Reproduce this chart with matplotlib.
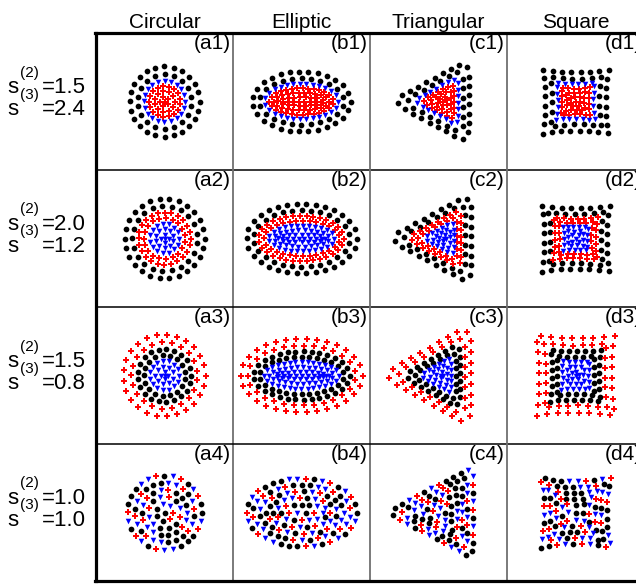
import numpy as np
import matplotlib
matplotlib.use('Agg')
import matplotlib.pyplot as plt
from matplotlib.lines import Line2D

plt.rcParams['font.family'] = ['Liberation Sans', 'DejaVu Sans']

columns = ['Circular', 'Elliptic', 'Triangular', 'Square']
col_keys = ['a', 'b', 'c', 'd']
s2_values = ['1.5', '2.0', '1.5', '1.0']
s3_values = ['2.4', '1.2', '0.8', '1.0']

# outer size of each cluster in px, one entry per row
circle_radius = [35, 40, 41, 37]
ellipse_axes = [(49, 30), (55, 35), (61, 37), (55, 34)]
triangle_size = [(78, 84), (84, 90), (90, 102), (86, 92)]   # tip-to-side width, side height
triangle_shift = [-9, -10, -13, -9]
triangle_round = [7, 7, 8, 5]
square_half = [(33, 32), (34, 33), (39, 40), (35, 35)]
square_bow = [3, 3, 3, 4]

# shells from outside in: (fraction of the way to the centre, species, spacing along shell px)
shells_row1 = [(0.00, 'k', 9.2), (0.22, 'k', 9.5), (0.41, 'b', 6.6), (0.56, 'r', 5.6),
               (0.71, 'r', 5.6), (0.86, 'r', 5.6), (1.00, 'r', 5.6)]
shells_row2 = [(0.00, 'k', 9.5), (0.19, 'k', 9.5), (0.35, 'r', 6.8), (0.49, 'r', 6.6),
               (0.63, 'b', 6.0), (0.77, 'b', 6.0), (0.90, 'b', 6.0), (1.00, 'b', 6.0)]
shells_row3 = [(0.00, 'r', 10.5), (0.19, 'r', 10.0), (0.35, 'k', 8.0), (0.50, 'k', 7.8),
               (0.64, 'b', 6.0), (0.78, 'b', 6.0), (0.91, 'b', 6.0), (1.00, 'b', 6.0)]
shells_row4 = [(0.00, 'm', 8.3), (0.19, 'm', 8.0), (0.38, 'm', 8.0), (0.57, 'm', 8.0),
               (0.77, 'm', 8.0), (1.00, 'm', 8.0)]
shells = [shells_row1, shells_row2, shells_row3, shells_row4]
mix_pattern = 'kkrbkrbkrbbk'

styles = {'k': dict(marker='o', color='black', s=17),
          'r': dict(marker='P', color='red', s=13),
          'b': dict(marker='v', color='blue', s=16)}

W, H = 636, 585
cell = 137
x0, y0 = 96, 33


def rounded_polygon(verts, rc, m=30):
    # counter-clockwise vertices, outline pushed out by rc with round corners
    verts = [np.asarray(v, float) for v in verts]
    nv = len(verts)
    normals = []
    for k in range(nv):
        d = verts[(k + 1) % nv] - verts[k]
        normals.append(np.array([d[1], -d[0]]) / np.hypot(*d))
    out = []
    for k in range(nv):
        n0, n1 = normals[k - 1], normals[k]
        a0 = np.arctan2(n0[1], n0[0])
        a1 = np.arctan2(n1[1], n1[0])
        a1 = a0 + (a1 - a0) % (2 * np.pi)
        th = np.linspace(a0, a1, m)
        out.append(verts[k] + rc * np.column_stack([np.cos(th), np.sin(th)]))
    return np.vstack(out)


def outline(kind, row, f):
    t = np.linspace(0, 2 * np.pi, 480, endpoint=False)
    if kind == 'a':
        r = circle_radius[row] * (1 - f)
        return np.column_stack([r * np.cos(t), r * np.sin(t)]), True
    if kind == 'b':
        a, b = ellipse_axes[row]
        d = b * f
        if b - d < 1:
            return np.array([[-(a - d), 0], [a - d, 0]]), False
        return np.column_stack([(a - d) * np.cos(t), (b - d) * np.sin(t)]), True
    if kind == 'c':
        w, h = triangle_size[row]
        xc = triangle_shift[row]
        A = np.array([xc - w / 2, 0.0])
        B = np.array([xc + w / 2, h / 2])
        C = np.array([xc + w / 2, -h / 2])
        la, lb, lc = np.linalg.norm(B - C), np.linalg.norm(A - C), np.linalg.norm(A - B)
        inc = (la * A + lb * B + lc * C) / (la + lb + lc)
        e1, e2 = B - A, C - A
        rin = abs(e1[0] * e2[1] - e1[1] * e2[0]) / (la + lb + lc)
        rc = triangle_round[row]
        k = (rin - rc) / rin
        inner = [inc + (V - inc) * k for V in (A, C, B)]
        pts = rounded_polygon(inner, rc)
        return inc + (pts - inc) * (1 - f), True
    hx, hy = square_half[row]
    c = square_bow[row]
    u = np.linspace(-1, 1, 120, endpoint=False)
    bow = c * (1 - u ** 2)
    sides = [np.column_stack([u * hx, -hy + bow]),
             np.column_stack([hx - bow, u * hy]),
             np.column_stack([-u * hx, hy - bow]),
             np.column_stack([-hx + bow, -u * hy])]
    return np.vstack(sides) * (1 - f), True


def place(pts, closed, spacing, phase):
    if closed:
        pts = np.vstack([pts, pts[:1]])
    seg = np.hypot(*np.diff(pts, axis=0).T)
    L = seg.sum()
    if L < 1.0:
        return pts[:1]
    cum = np.concatenate([[0], np.cumsum(seg)])
    if closed:
        n = max(1, int(round(L / spacing)))
        s = (np.arange(n) + phase) / n * L
    else:
        n = max(1, int(round(L / spacing)) + 1)
        s = np.linspace(0, L, n)
    return np.column_stack([np.interp(s, cum, pts[:, 0]), np.interp(s, cum, pts[:, 1])])


fig = plt.figure(figsize=(W / 100, H / 100), dpi=100)

for i in range(4):
    for j, key in enumerate(col_keys):
        left = (x0 + cell * j) / W
        bottom = 1 - (y0 + cell * (i + 1)) / H
        ax = fig.add_axes([left, bottom, cell / W, cell / H])
        ax.set_xlim(-cell / 2, cell / 2)
        ax.set_ylim(-cell / 2, cell / 2)
        ax.axis('off')
        groups = {'k': [], 'r': [], 'b': []}
        for k, (f, sp, spacing) in enumerate(shells[i]):
            pts, closed = outline(key, i, f)
            p = place(pts, closed, spacing, 0.5 * (k % 2))
            if sp == 'm':
                for n, q in enumerate(p):
                    groups[mix_pattern[(n + 5 * k) % len(mix_pattern)]].append(q)
            else:
                groups[sp].extend(p)
        for sp in ['k', 'r', 'b']:
            if groups[sp]:
                g = np.array(groups[sp])
                ax.scatter(g[:, 0], g[:, 1], linewidths=0, clip_on=False, **styles[sp])
        ax.text(1 - 2 / cell, 1 - 1 / cell, f'({key}{i + 1})', transform=ax.transAxes,
                ha='right', va='top', fontsize=15)

# column titles
for j, name in enumerate(columns):
    fig.text((x0 + cell * (j + 0.5)) / W, 1 - 28 / H, name, ha='center', va='baseline', fontsize=15)


def row_label(yb, order, value):
    fy = lambda y: 1 - y / H
    fig.text(7 / W, fy(yb), 's', ha='left', va='baseline', fontsize=16)
    fig.text(20 / W, fy(yb - 16.5), f'({order})', ha='left', va='baseline', fontsize=11)
    fig.text(42 / W, fy(yb), '=' + value, ha='left', va='baseline', fontsize=16)


for i in range(4):
    yc = y0 + cell * (i + 0.5)
    row_label(yc - 8.5, 2, s2_values[i])
    row_label(yc + 13.5, 3, s3_values[i])


def hline(y, xa, xb, **kw):
    fig.add_artist(Line2D([xa / W, xb / W], [1 - y / H, 1 - y / H], transform=fig.transFigure, **kw))


def vline(x, ya, yb, **kw):
    fig.add_artist(Line2D([x / W, x / W], [1 - ya / H, 1 - yb / H], transform=fig.transFigure, **kw))


right = x0 + 4 * cell
bottom_px = y0 + 4 * cell
for i in range(1, 4):
    hline(y0 + cell * i, x0, right, color='black', lw=1.1)
    vline(x0 + cell * i, y0, bottom_px, color='#707070', lw=1.3)
hline(y0, x0 - 1, right, color='black', lw=2.3)
hline(bottom_px, x0 - 1, right, color='black', lw=2.3)
vline(x0, y0, bottom_px, color='black', lw=2.3)

fig.savefig('out.png', dpi=100)
